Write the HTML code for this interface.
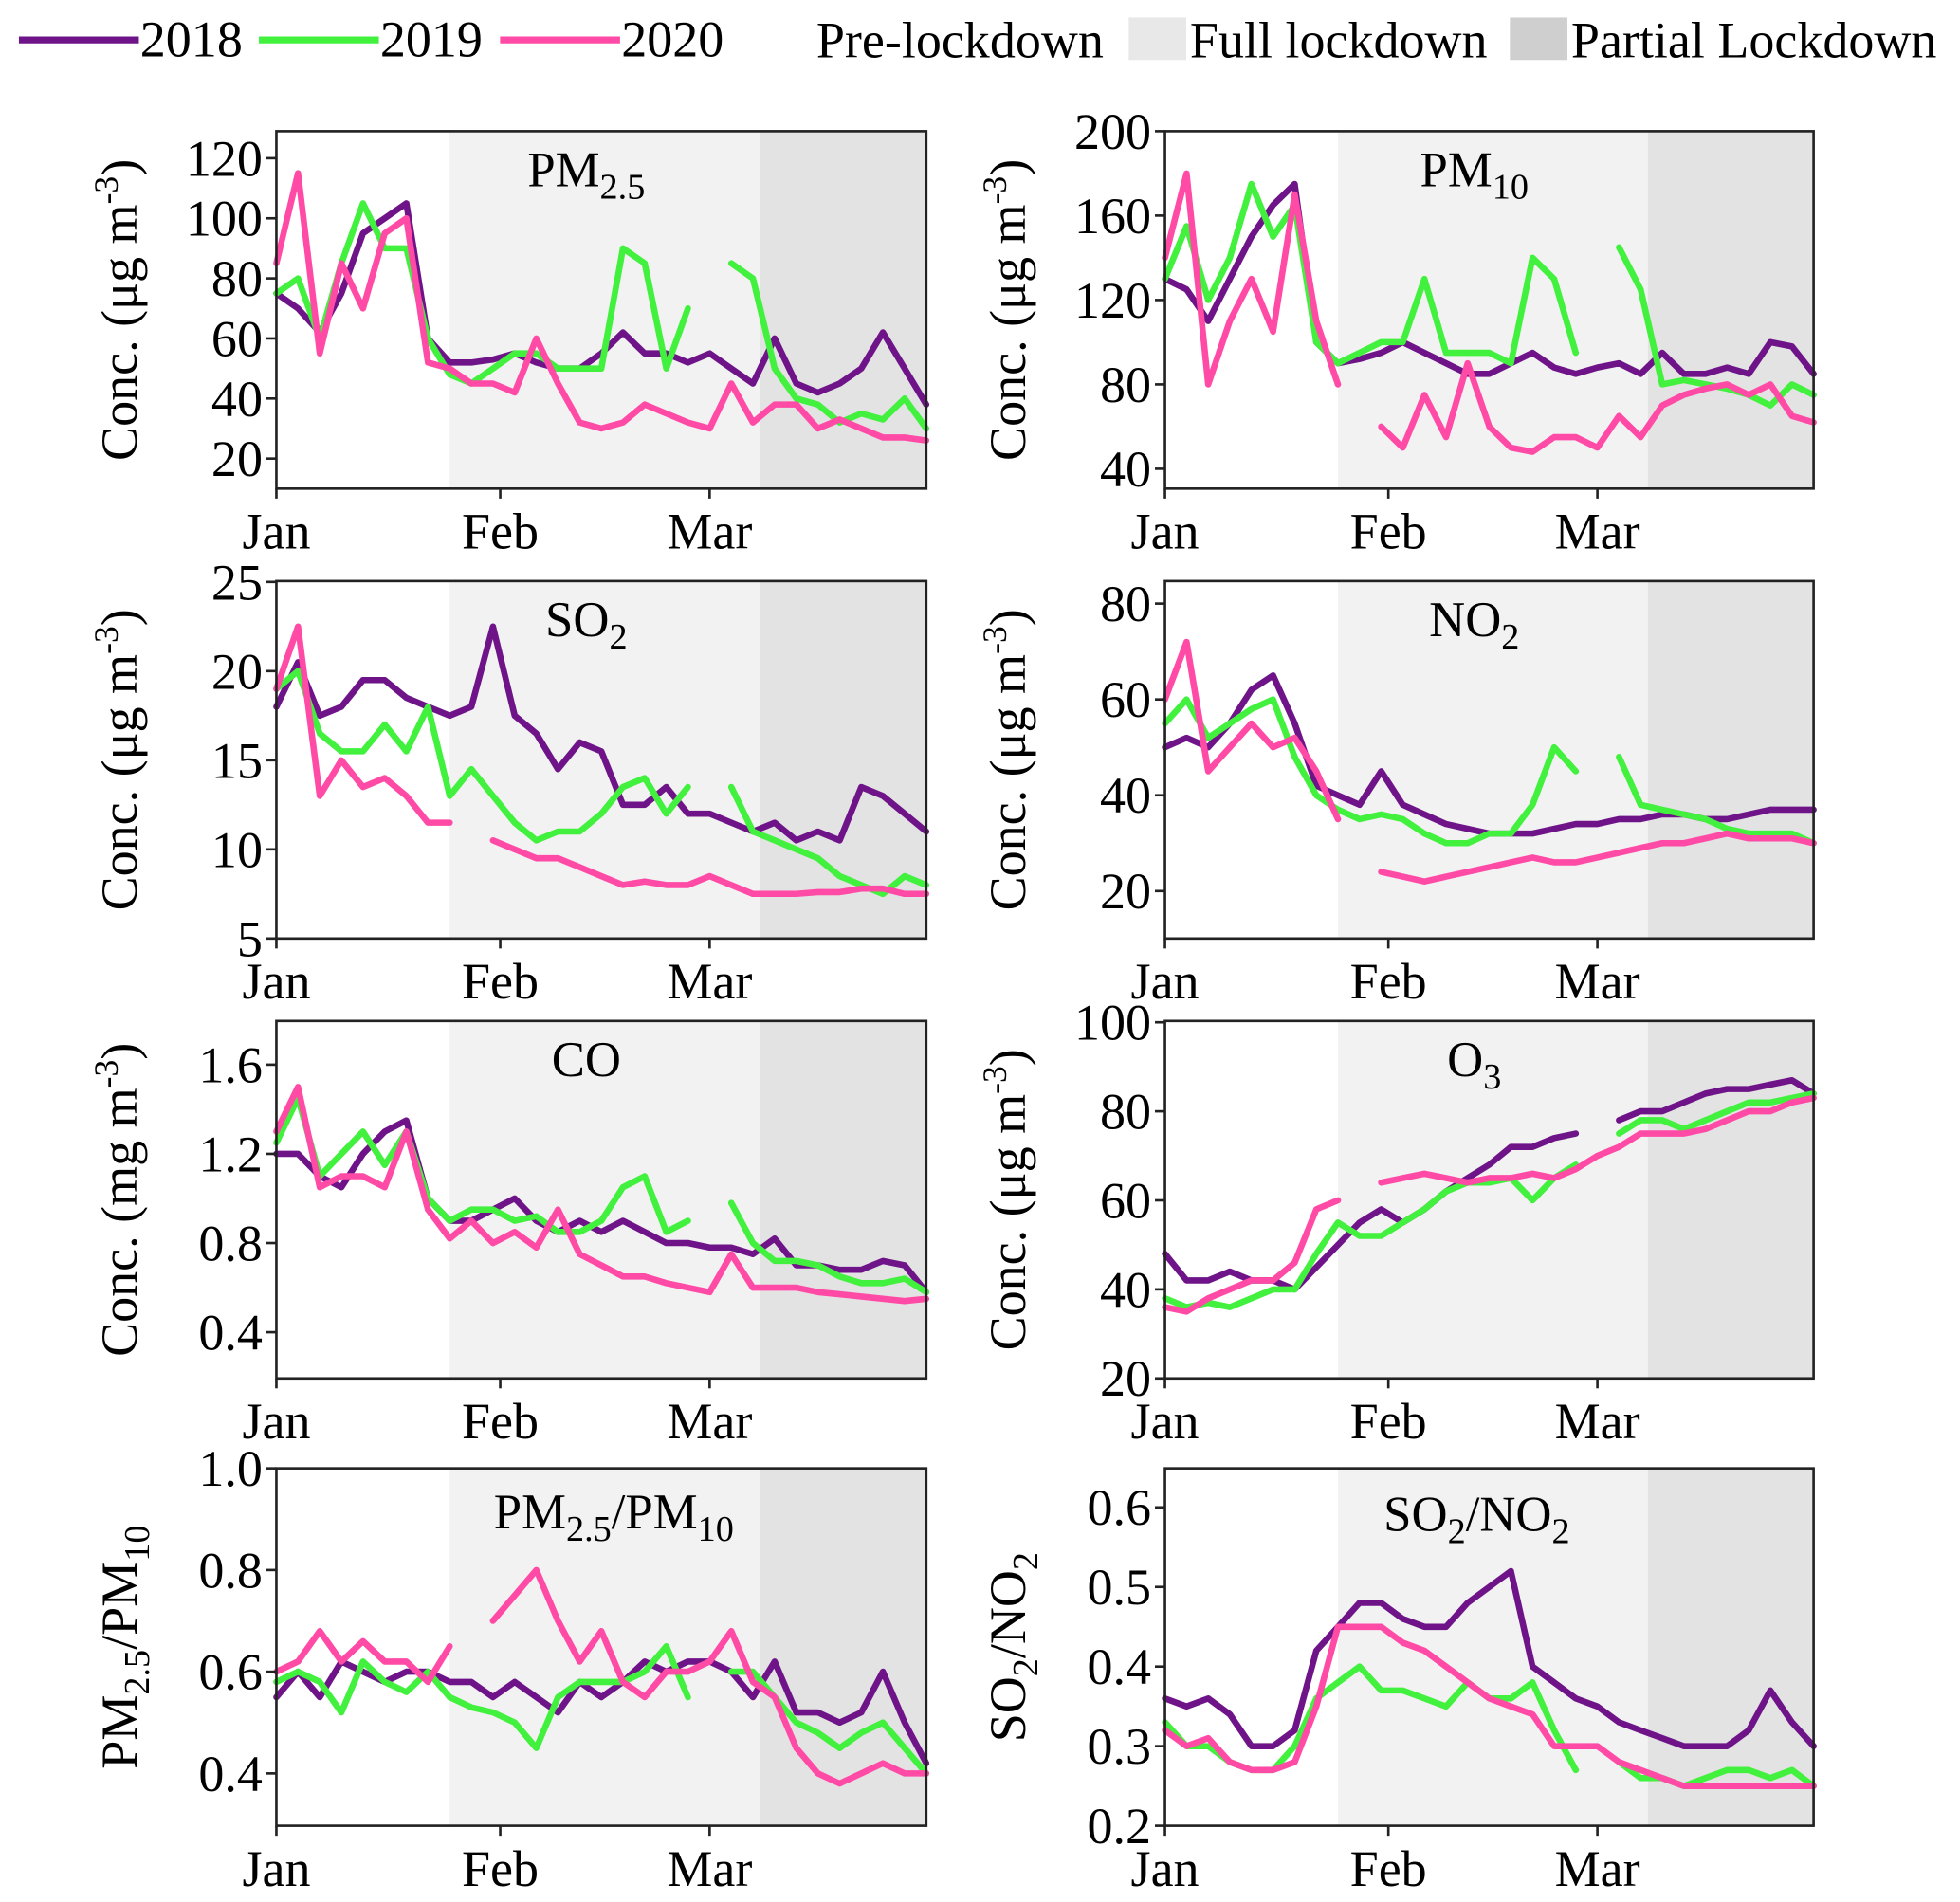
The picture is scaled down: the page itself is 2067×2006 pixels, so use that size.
<!DOCTYPE html>
<html><head><meta charset="utf-8"><style>
html,body{margin:0;padding:0;background:#fff;}
svg{display:block;font-family:"Liberation Serif",serif;}
</style></head><body>
<svg id="chart" width="2067" height="2006" viewBox="0 0 1568 1522" xmlns="http://www.w3.org/2000/svg"></svg>
<script>
const days = [0,3,6,9,12,15,18,21,24,27,30,33,36,39,42,45,48,51,54,57,60,63,66,69,72,75,78,81,84,87,90];
const monthLabels = ["Jan","Feb","Mar"];
const monthDays = [0,31,60];
const phaseDays = [0,24,67,90];
const years = ["2018","2019","2020"];
const yearColors = ["#6e1488","#42f03e","#ff4aa6"];

const pm25_2018 = [75,70,62,75,95,100,105,60,52,52,53,55,52,50,50,55,62,55,55,52,55,50,45,60,45,42,45,50,62,50,38];
const pm25_2019 = [75,80,60,85,105,90,90,60,48,45,50,55,55,50,50,50,90,85,50,70,null,85,80,50,40,38,32,35,33,40,30];
const pm25_2020 = [85,115,55,85,70,95,100,52,50,45,45,42,60,45,32,30,32,38,35,32,30,45,32,38,38,30,33,30,27,27,26];

const pm10_2018 = [130,125,110,130,150,165,175,100,90,92,95,100,95,90,85,85,90,95,88,85,88,90,85,95,85,85,88,85,100,98,85];
const pm10_2019 = [130,155,120,140,175,150,165,100,90,95,100,100,130,95,95,95,90,140,130,95,null,145,125,80,82,80,78,75,70,80,75];
const pm10_2020 = [140,180,80,110,130,105,170,110,80,null,60,50,75,55,90,60,50,48,55,55,50,65,55,70,75,78,80,75,80,65,62];

const so2_2018 = [18,20.5,17.5,18,19.5,19.5,18.5,18,17.5,18,22.5,17.5,16.5,14.5,16,15.5,12.5,12.5,13.5,12,12,11.5,11,11.5,10.5,11,10.5,13.5,13,12,11];
const so2_2019 = [19,20,16.5,15.5,15.5,17,15.5,18,13,14.5,13,11.5,10.5,11,11,12,13.5,14,12,13.5,null,13.5,11,10.5,10,9.5,8.5,8,7.5,8.5,8];
const so2_2020 = [19,22.5,13,15,13.5,14,13,11.5,11.5,null,10.5,10,9.5,9.5,9,8.5,8,8.2,8,8,8.5,8,7.5,7.5,7.5,7.6,7.6,7.8,7.8,7.5,7.5];

const no2_2018 = [50,52,50,55,62,65,55,42,40,38,45,38,36,34,33,32,32,32,33,34,34,35,35,36,36,35,35,36,37,37,37];
const no2_2019 = [55,60,52,55,58,60,48,40,37,35,36,35,32,30,30,32,32,38,50,45,null,48,38,37,36,35,33,32,32,32,30];
const no2_2020 = [60,72,45,50,55,50,52,45,35,null,24,23,22,23,24,25,26,27,26,26,27,28,29,30,30,31,32,31,31,31,30];

const co_2018 = [1.2,1.2,1.1,1.05,1.2,1.3,1.35,1.0,0.9,0.9,0.95,1.0,0.9,0.85,0.9,0.85,0.9,0.85,0.8,0.8,0.78,0.78,0.75,0.82,0.7,0.7,0.68,0.68,0.72,0.7,0.58];
const co_2019 = [1.25,1.45,1.1,1.2,1.3,1.15,1.3,1.0,0.9,0.95,0.95,0.9,0.92,0.85,0.85,0.9,1.05,1.1,0.85,0.9,null,0.98,0.8,0.72,0.72,0.7,0.65,0.62,0.62,0.64,0.58];
const co_2020 = [1.3,1.5,1.05,1.1,1.1,1.05,1.3,0.95,0.82,0.9,0.8,0.85,0.78,0.95,0.75,0.7,0.65,0.65,0.62,0.6,0.58,0.75,0.6,0.6,0.6,0.58,0.57,0.56,0.55,0.54,0.55];

const o3_2018 = [48,42,42,44,42,42,40,45,50,55,58,55,58,62,65,68,72,72,74,75,null,78,80,80,82,84,85,85,86,87,84];
const o3_2019 = [38,36,37,36,38,40,40,48,55,52,52,55,58,62,64,64,65,60,65,68,null,75,78,78,76,78,80,82,82,83,84];
const o3_2020 = [36,35,38,40,42,42,46,58,60,null,64,65,66,65,64,65,65,66,65,67,70,72,75,75,75,76,78,80,80,82,83];

const ratio_2018 = [0.55,0.6,0.55,0.62,0.6,0.58,0.6,0.6,0.58,0.58,0.55,0.58,0.55,0.52,0.58,0.55,0.58,0.62,0.6,0.62,0.62,0.6,0.55,0.62,0.52,0.52,0.5,0.52,0.6,0.5,0.42];
const ratio_2019 = [0.58,0.6,0.58,0.52,0.62,0.58,0.56,0.6,0.55,0.53,0.52,0.5,0.45,0.55,0.58,0.58,0.58,0.6,0.65,0.55,null,0.6,0.6,0.55,0.5,0.48,0.45,0.48,0.5,0.45,0.4];
const ratio_2020 = [0.6,0.62,0.68,0.62,0.66,0.62,0.62,0.58,0.65,null,0.7,0.75,0.8,0.7,0.62,0.68,0.58,0.55,0.6,0.6,0.62,0.68,0.58,0.55,0.45,0.4,0.38,0.4,0.42,0.4,0.4];

const sn_2018 = [0.36,0.35,0.36,0.34,0.3,0.3,0.32,0.42,0.45,0.48,0.48,0.46,0.45,0.45,0.48,0.5,0.52,0.4,0.38,0.36,0.35,0.33,0.32,0.31,0.3,0.3,0.3,0.32,0.37,0.33,0.3];
const sn_2019 = [0.33,0.3,0.3,0.28,0.27,0.27,0.3,0.36,0.38,0.4,0.37,0.37,0.36,0.35,0.38,0.36,0.36,0.38,0.32,0.27,null,0.28,0.26,0.26,0.25,0.26,0.27,0.27,0.26,0.27,0.25];
const sn_2020 = [0.32,0.3,0.31,0.28,0.27,0.27,0.28,0.35,0.45,0.45,0.45,0.43,0.42,0.4,0.38,0.36,0.35,0.34,0.3,0.3,0.3,0.28,0.27,0.26,0.25,0.25,0.25,0.25,0.25,0.25,0.25];

const pm25Ticks = [20,40,60,80,100,120];
const pm10Ticks = [40,80,120,160,200];
const so2Ticks = [5,10,15,20,25];
const no2Ticks = [20,40,60,80];
const coTicks = [0.4,0.8,1.2,1.6];
const o3Ticks = [20,40,60,80,100];
const ratioTicks = [0.4,0.6,0.8,1.0];
const snTicks = [0.2,0.3,0.4,0.5,0.6];

const NS = "http://www.w3.org/2000/svg";
const svg = document.getElementById("chart");
function mk(tag, attrs, parent){const e=document.createElementNS(NS,tag);for(const k in attrs)e.setAttribute(k,attrs[k]);(parent||svg).appendChild(e);return e;}

const panels = [
 {id:"pm25",x0:221,x1:741,y0:105,y1:391,dom:[10,129],ticks:pm25Ticks,dec:0,series:[pm25_2018,pm25_2019,pm25_2020],title:["PM","2.5",""],ytitle:"ug"},
 {id:"pm10",x0:932,x1:1451,y0:105,y1:391,dom:[30.6,200],ticks:pm10Ticks,dec:0,series:[pm10_2018,pm10_2019,pm10_2020],title:["PM","10",""],ytitle:"ug"},
 {id:"so2",x0:221,x1:741,y0:465,y1:751,dom:[5,25.05],ticks:so2Ticks,dec:0,series:[so2_2018,so2_2019,so2_2020],title:["SO","2",""],ytitle:"ug"},
 {id:"no2",x0:932,x1:1451,y0:465,y1:751,dom:[10.1,84.7],ticks:no2Ticks,dec:0,series:[no2_2018,no2_2019,no2_2020],title:["NO","2",""],ytitle:"ug"},
 {id:"co",x0:221,x1:741,y0:817,y1:1103,dom:[0.193,1.796],ticks:coTicks,dec:1,series:[co_2018,co_2019,co_2020],title:["CO","",""],ytitle:"mg"},
 {id:"o3",x0:932,x1:1451,y0:817,y1:1103,dom:[20,100.3],ticks:o3Ticks,dec:0,series:[o3_2018,o3_2019,o3_2020],title:["O","3",""],ytitle:"ug"},
 {id:"pm-ratio",x0:221,x1:741,y0:1175,y1:1461,dom:[0.297,1.0],ticks:ratioTicks,dec:1,series:[ratio_2018,ratio_2019,ratio_2020],title:null,ytitle:"pmratio"},
 {id:"so2-no2-ratio",x0:932,x1:1451,y0:1175,y1:1461,dom:[0.2,0.649],ticks:snTicks,dec:1,series:[sn_2018,sn_2019,sn_2020],title:null,ytitle:"snratio"}
];

panels.forEach(p=>{
  const g=mk("g",{});
  
  
  const xs=d=>p.x0+(p.x1-p.x0)*d/90;
  const ys=v=>p.y1-(p.y1-p.y0)*(v-p.dom[0])/(p.dom[1]-p.dom[0]);
  const fills=["#ffffff","#f2f2f2","#e3e3e3"];
  for(let i=0;i<3;i++){
    const r=mk("rect",{x:xs(phaseDays[i]),y:p.y0,width:xs(phaseDays[i+1])-xs(phaseDays[i]),height:p.y1-p.y0,fill:fills[i]},g);
    
    
  }
  p.series.forEach((vals,si)=>{
    let d="",pen=false;
    vals.forEach((v,i)=>{
      if(v===null){pen=false;return;}
      d+=(pen?"L":"M")+xs(days[i]).toFixed(1)+","+ys(v).toFixed(1);
      pen=true;
    });
    const l=mk("path",{d:d,fill:"none",stroke:yearColors[si],"stroke-width":5,"stroke-linejoin":"round","stroke-linecap":"round"},g);
    
    
  });
  const fr=mk("rect",{x:p.x0,y:p.y0,width:p.x1-p.x0,height:p.y1-p.y0,fill:"none",stroke:"#222","stroke-width":2},g);
  
  
  p.ticks.forEach(t=>{
    const y=ys(t);
    mk("line",{x1:p.x0-8,x2:p.x0,y1:y,y2:y,stroke:"#222","stroke-width":2},g);
    const tx=mk("text",{x:p.x0-11,y:y+14,"text-anchor":"end","font-size":41},g);
    tx.textContent=t.toFixed(p.dec);
    
    
  });
  monthDays.forEach((md,i)=>{
    const x=xs(md);
    mk("line",{x1:x,x2:x,y1:p.y1,y2:p.y1+8,stroke:"#222","stroke-width":2},g);
    const tx=mk("text",{x:x,y:p.y1+48,"text-anchor":"middle","font-size":41},g);
    tx.textContent=monthLabels[i];
    
    
  });
  const cx=(p.x0+p.x1)/2;
  let tt;
  if(p.title){
    tt=mk("text",{x:cx-12,y:p.y0+44,"text-anchor":"middle","font-size":40},g);
    tt.innerHTML=p.title[0]+'<tspan font-size="29" dy="10">'+p.title[1]+'</tspan>';
  } else if(p.ytitle==="pmratio"){
    tt=mk("text",{x:cx+10,y:p.y0+48,"text-anchor":"middle","font-size":40},g);
    tt.innerHTML='PM<tspan font-size="29" dy="10">2.5</tspan><tspan dy="-10">/PM</tspan><tspan font-size="29" dy="10">10</tspan>';
  } else {
    tt=mk("text",{x:cx-10,y:p.y0+50,"text-anchor":"middle","font-size":40},g);
    tt.innerHTML='SO<tspan font-size="29" dy="10">2</tspan><tspan dy="-10">/NO</tspan><tspan font-size="29" dy="10">2</tspan>';
  }
  
  
  const yx=p.x0-112;
  const ym=(p.y0+p.y1)/2;
  const yt=mk("text",{x:0,y:0,"text-anchor":"middle","font-size":41,transform:"translate("+yx+","+ym+") rotate(-90)"},g);
  if(p.ytitle==="ug") yt.innerHTML='Conc. (μg m<tspan font-size="27" dy="-15">-3</tspan><tspan dy="15">)</tspan>';
  else if(p.ytitle==="mg") yt.innerHTML='Conc. (mg m<tspan font-size="27" dy="-15">-3</tspan><tspan dy="15">)</tspan>';
  else if(p.ytitle==="pmratio") yt.innerHTML='PM<tspan font-size="29" dy="10">2.5</tspan><tspan dy="-10">/PM</tspan><tspan font-size="29" dy="10">10</tspan>';
  else yt.innerHTML='SO<tspan font-size="29" dy="10">2</tspan><tspan dy="-10">/NO</tspan><tspan font-size="29" dy="10">2</tspan>';
  
  
});

const lg=mk("g",{});


const lx=[15,207,400];
years.forEach((y,i)=>{
  const gl=mk("g",{},lg);
  
  
  mk("line",{x1:lx[i],x2:lx[i]+96,y1:32,y2:32,stroke:yearColors[i],"stroke-width":5.5},gl);
  const t=mk("text",{x:lx[i]+97,y:45,"font-size":41},gl);
  t.textContent=y;
});
const phaseNames=["Pre-lockdown","Full lockdown","Partial Lockdown"];
const phaseX=[653,903,1208];
const phaseFill=["#ffffff","#e8e8e8","#cfcfcf"];
phaseNames.forEach((n,i)=>{
  const gl=mk("g",{},lg);
  
  
  if(i>0) mk("rect",{x:phaseX[i],y:14,width:46,height:34,fill:phaseFill[i]},gl);
  const t=mk("text",{x:i>0?phaseX[i]+49:phaseX[i],y:46,"font-size":41},gl);
  t.textContent=n;
});
</script>
</body></html>
